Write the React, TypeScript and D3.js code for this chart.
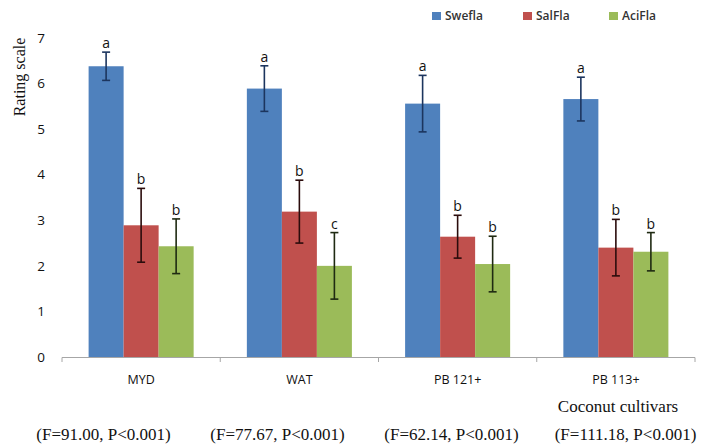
import * as d3 from "d3";
import { useEffect, useRef } from "react";

// data
const cultivars = ["MYD", "WAT", "PB 121+", "PB 113+"];
const seriesNames = ["Swefla", "SalFla", "AciFla"];
const swefla = [6.38, 5.89, 5.56, 5.66];
const salfla = [2.89, 3.19, 2.64, 2.40];
const acifla = [2.43, 2.00, 2.04, 2.31];
const sweflaErr = [0.31, 0.5, 0.62, 0.48];
const salflaErr = [0.81, 0.69, 0.47, 0.62];
const aciflaErr = [0.6, 0.73, 0.61, 0.42];
const sweflaLetters = ["a", "a", "a", "a"];
const salflaLetters = ["b", "b", "b", "b"];
const aciflaLetters = ["b", "c", "b", "b"];
const statLabels = [
  "(F=91.00, P<0.001)",
  "(F=77.67, P<0.001)",
  "(F=62.14, P<0.001)",
  "(F=111.18, P<0.001)",
];
const yTicks = [0, 1, 2, 3, 4, 5, 6, 7];

const colors = ["#4f81bd", "#c0504d", "#9bbb59"];
const errColors = ["#1c355e", "#2b0c0c", "#1f2a12"];

function App() {
  const ref = useRef(null);

  useEffect(() => {
    document.body.style.margin = "0";
    drawChart();
  }, []);

  const drawChart = () => {
    const svg = d3.select(ref.current);
    svg.selectAll("*").remove();

    const values = [swefla, salfla, acifla];
    const errs = [sweflaErr, salflaErr, aciflaErr];
    const letters = [sweflaLetters, salflaLetters, aciflaLetters];

    // x scales: category band and series band inside it
    const x0 = d3.scaleBand().domain(cultivars).range([62, 695]).paddingInner(0).paddingOuter(0);
    const x1 = d3
      .scaleBand()
      .domain(seriesNames)
      .range([0, x0.bandwidth()])
      .paddingInner(0)
      .paddingOuter(0.76);

    const yScale = d3.scaleLinear().domain([0, 7]).range([357, 38]);

    // y tick labels (no axis line in the original)
    svg
      .append("g")
      .selectAll("text")
      .data(yTicks)
      .join("text")
      .attr("x", 45)
      .attr("y", (d) => yScale(d))
      .attr("dy", "0.35em")
      .attr("text-anchor", "end")
      .attr("font-family", "Open Sans")
      .attr("font-size", 13.5)
      .attr("fill", "#111")
      .text((d) => d);

    // y title
    svg
      .append("text")
      .attr("transform", "translate(25,77) rotate(-90)")
      .attr("text-anchor", "middle")
      .attr("font-family", "Liberation Serif")
      .attr("font-size", 16)
      .attr("fill", "#111")
      .text("Rating scale");

    // bars + error bars + letters
    seriesNames.forEach((s, si) => {
      const g = svg.append("g");
      const data = cultivars.map((c, i) => ({
        c,
        v: values[si][i],
        e: errs[si][i],
        l: letters[si][i],
      }));

      g.selectAll("rect")
        .data(data)
        .join("rect")
        .attr("x", (d) => x0(d.c) + x1(s))
        .attr("y", (d) => yScale(d.v))
        .attr("width", x1.bandwidth())
        .attr("height", (d) => yScale(0) - yScale(d.v))
        .attr("fill", colors[si]);

      const cx = (d) => x0(d.c) + x1(s) + x1.bandwidth() / 2;

      g.selectAll("line.err")
        .data(data)
        .join("line")
        .attr("class", "err")
        .attr("x1", cx)
        .attr("x2", cx)
        .attr("y1", (d) => yScale(d.v + d.e))
        .attr("y2", (d) => yScale(d.v - d.e))
        .attr("stroke", errColors[si])
        .attr("stroke-width", 1.6);

      ["top", "bot"].forEach((k) => {
        g.selectAll("line.cap-" + k)
          .data(data)
          .join("line")
          .attr("class", "cap-" + k)
          .attr("x1", (d) => cx(d) - 4)
          .attr("x2", (d) => cx(d) + 4)
          .attr("y1", (d) => yScale(k === "top" ? d.v + d.e : d.v - d.e))
          .attr("y2", (d) => yScale(k === "top" ? d.v + d.e : d.v - d.e))
          .attr("stroke", errColors[si])
          .attr("stroke-width", 1.6);
      });

      g.selectAll("text")
        .data(data)
        .join("text")
        .attr("x", cx)
        .attr("y", (d) => yScale(d.v + d.e) - 4)
        .attr("text-anchor", "middle")
        .attr("font-family", "Open Sans")
        .attr("font-size", 14)
        .attr("fill", "#111")
        .text((d) => d.l);
    });

    // x axis line with ticks between categories
    svg
      .append("line")
      .attr("x1", 62)
      .attr("x2", 695)
      .attr("y1", 357.5)
      .attr("y2", 357.5)
      .attr("stroke", "#a6a6a6")
      .attr("stroke-width", 1.2);

    const bounds = cultivars.map((c) => x0(c)).concat([x0.range()[1]]);
    svg
      .append("g")
      .selectAll("line")
      .data(bounds)
      .join("line")
      .attr("x1", (d) => d)
      .attr("x2", (d) => d)
      .attr("y1", 357.5)
      .attr("y2", 362)
      .attr("stroke", "#a6a6a6");

    // category labels
    svg
      .append("g")
      .selectAll("text")
      .data(cultivars)
      .join("text")
      .attr("x", (d) => x0(d) + x0.bandwidth() / 2)
      .attr("y", 384)
      .attr("text-anchor", "middle")
      .attr("font-family", "Open Sans")
      .attr("font-size", 12.5)
      .attr("font-weight", 500)
      .attr("fill", "#111")
      .text((d) => d);

    // x title
    svg
      .append("text")
      .attr("x", 618)
      .attr("y", 412)
      .attr("text-anchor", "middle")
      .attr("font-family", "Liberation Serif")
      .attr("font-size", 17)
      .attr("fill", "#111")
      .text("Coconut cultivars");

    // F statistics under the chart
    svg
      .append("g")
      .selectAll("text")
      .data(statLabels)
      .join("text")
      .attr("x", (d, i) => 103.5 + i * 174)
      .attr("y", 440)
      .attr("text-anchor", "middle")
      .attr("font-family", "Liberation Serif")
      .attr("font-size", 17)
      .attr("fill", "#111")
      .text((d) => d);

    // legend
    const legX = [432, 523, 609];
    const leg = svg
      .append("g")
      .selectAll("g")
      .data(seriesNames)
      .join("g")
      .attr("transform", (d, i) => `translate(${legX[i]},12)`);
    leg
      .append("rect")
      .attr("width", 9)
      .attr("height", 8)
      .attr("fill", (d, i) => colors[i]);
    leg
      .append("text")
      .attr("x", 13)
      .attr("y", 4)
      .attr("dy", "0.35em")
      .attr("font-family", "Open Sans")
      .attr("font-size", 12)
      .attr("font-weight", 600)
      .attr("fill", "#333")
      .text((d) => d);
  };

  return (
    <div>
      <svg ref={ref} width={704} height={448} style={{ display: "block", background: "#fff" }} />
    </div>
  );
}

export default App;
